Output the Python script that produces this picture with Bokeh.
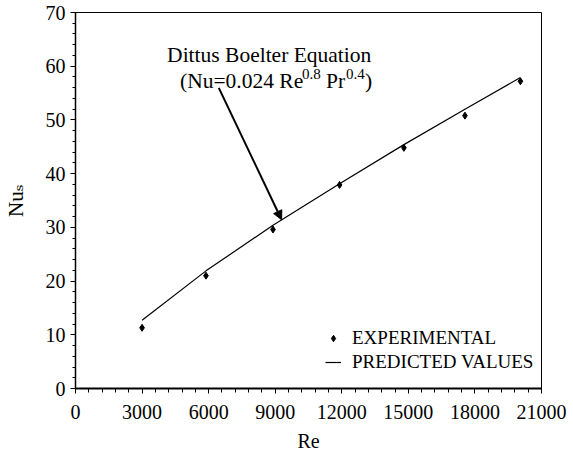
import math
from bokeh.plotting import figure
from bokeh.models import (Range1d, SingleIntervalTicker, Label, Arrow, NormalHead,
                          Legend, LegendItem)
from bokeh.embed import file_html
from bokeh.resources import INLINE

# ---- data ----
re_exp = [3000, 5880, 8900, 11900, 14800, 17550, 20050]
nu_exp = [11.3, 21.0, 29.6, 37.9, 44.8, 50.8, 57.2]
re_pred = [3000, 5880, 8900, 11900, 14800, 17550, 20050]
nu_pred = [12.7, 21.9, 30.4, 38.1, 45.4, 52.0, 57.9]
x_title = "Re"
y_title = "Nu\u209b"
legend_labels = ["EXPERIMENTAL", "PREDICTED VALUES"]
note_line1 = "Dittus Boelter Equation"
note_parts = ["(Nu=0.024 Re", "0.8", "Pr", "0.4", ")"]

FONT = "Liberation Serif, Times New Roman, DejaVu Serif, serif"

p = figure(width=573, height=455, output_backend="svg", toolbar_location=None,
           x_range=Range1d(0, 21000), y_range=Range1d(0, 70),
           min_border_left=73, min_border_right=32, min_border_top=12,
           min_border_bottom=67)
p.background_fill_color = "white"
p.border_fill_color = "white"
p.outline_line_color = "black"
p.outline_line_width = 1
p.grid.visible = False

p.xaxis.ticker = SingleIntervalTicker(interval=3000, num_minor_ticks=5)
p.yaxis.ticker = SingleIntervalTicker(interval=10, num_minor_ticks=5)
for ax in (p.xaxis, p.yaxis):
    ax.axis_line_color = "black"
    ax.major_tick_line_color = "black"
    ax.minor_tick_line_color = "black"
    ax.major_tick_in = 0
    ax.minor_tick_in = 0
    ax.major_tick_out = 5
    ax.minor_tick_out = 3
    ax.major_label_text_font = FONT
    ax.major_label_text_font_size = "20px"
    ax.major_label_text_color = "black"
    ax.axis_label_text_font = FONT
    ax.axis_label_text_font_style = "normal"
    ax.axis_label_text_color = "black"
p.xaxis.axis_line_width = 2
p.yaxis.axis_line_width = 1.5
p.xaxis.minor_tick_out = 4
p.xaxis.major_label_standoff = 11
p.yaxis.major_label_standoff = 5

p.xaxis.axis_label = x_title
p.xaxis.axis_label_text_font_size = "20px"
p.xaxis.axis_label_standoff = 8
p.yaxis.axis_label = y_title
p.yaxis.axis_label_text_font_size = "21px"
p.yaxis.axis_label_standoff = 15

line_r = p.line(re_pred, nu_pred, line_color="black", line_width=1.2)
pts_r = p.scatter(re_exp, nu_exp, marker="diamond", size=7,
                  fill_color="black", line_color="black")

legend = Legend(items=[LegendItem(label=legend_labels[0], renderers=[pts_r]),
                       LegendItem(label=legend_labels[1], renderers=[line_r])],
                location=(250, 15), label_text_font=FONT,
                label_text_font_size="19px", label_text_color="black",
                label_standoff=11, glyph_width=16, glyph_height=20,
                label_height=20, spacing=2, padding=0, margin=0,
                border_line_alpha=0, background_fill_alpha=0)
p.add_layout(legend)

# annotation text
p.add_layout(Label(x=4128, y=62.0, text=note_line1, text_font=FONT,
                   text_font_size="21.5px", text_color="black",
                   text_baseline="alphabetic"))
offs = [0, 122, 146, 166, 185]
sizes = ["21.5px", "15px", "21.5px", "15px", "21.5px"]
raises = [0, 7, 0, 7, 0]
for t, xo, fs, yo in zip(note_parts, offs, sizes, raises):
    p.add_layout(Label(x=4712, y=57.34, x_offset=xo, y_offset=yo, text=t,
                       text_font=FONT, text_font_size=fs, text_color="black",
                       text_baseline="alphabetic"))

p.add_layout(Arrow(x_start=6458, y_start=55.98, x_end=9288, y_end=31.41,
                   line_color="black", line_width=2,
                   end=NormalHead(size=9, fill_color="black", line_color="black")))

open("out.html", "w").write(file_html(p, INLINE))
